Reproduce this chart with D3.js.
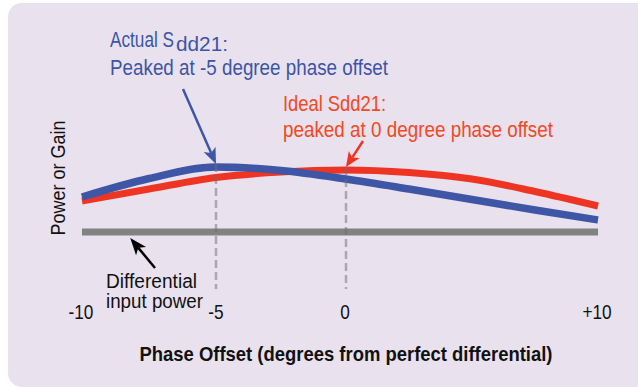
<!DOCTYPE html>
<html>
<head>
<meta charset="utf-8">
<script src="https://cdn.jsdelivr.net/npm/d3@7"></script>
<style>
  html, body { margin: 0; padding: 0; background: #ffffff; }
  svg { display: block; }
  .cond { font-family: "Liberation Sans Narrow", "Arial Narrow", "Liberation Sans", sans-serif; }
</style>
</head>
<body>
<svg id="chart" width="638" height="387"></svg>
<script>
// Phase offset (degrees) sampled along each response curve
const phase = [-10, -7.5, -5, -2.5, 0, 2.5, 5, 7.5, 10];
// Measured differential gain, peaks at -5 degrees
const actualSdd21 = [3.5, 5.35, 6.5, 6.15, 5.3, 4.3, 3.25, 2.2, 1.2];
// Ideal differential gain, peaks at 0 degrees
const idealSdd21 = [3.1, 4.3, 5.45, 6.0, 6.2, 5.95, 5.3, 4.05, 2.6];
// Flat differential input power reference
const inputPhase = [-10, 10];
const inputPower = [0, 0];
// Axis ticks
const tickValues = [-10, -5, 0, 10];
const tickLabels = ["-10", "-5", "0", "+10"];
// Peak markers
const actualPeak = -5;
const idealPeak = 0;

const svg = d3.select("#chart");

// card background
svg.append("rect")
  .attr("x", 8).attr("y", 3)
  .attr("width", 660).attr("height", 384)
  .attr("rx", 14).attr("ry", 14)
  .attr("fill", "#e9e2ee");

const x = d3.scaleLinear().domain([-10, -5, 0, 10]).range([82, 216, 346, 598]);
const y = d3.scaleLinear().domain([0, 10]).range([232, 132]);

const line = d3.line()
  .x(d => x(d[0]))
  .y(d => y(d[1]))
  .curve(d3.curveMonotoneX);

// input power bar
svg.append("path")
  .attr("d", d3.line().x(d => x(d[0])).y(d => y(d[1]))(d3.zip(inputPhase, inputPower)))
  .attr("stroke", "#828282").attr("stroke-width", 7).attr("fill", "none");

// ideal and actual curves
svg.append("path")
  .attr("d", line(d3.zip(phase, idealSdd21)))
  .attr("stroke", "#ee3524").attr("stroke-width", 7).attr("fill", "none");
svg.append("path")
  .attr("d", line(d3.zip(phase, actualSdd21)))
  .attr("stroke", "#3f56a6").attr("stroke-width", 7.5).attr("fill", "none");

const valueAt = (arr, p) => arr[phase.indexOf(p)];

// dashed peak guides
[[actualPeak, valueAt(actualSdd21, actualPeak)], [idealPeak, valueAt(idealSdd21, idealPeak)]]
  .forEach(([p, v]) => {
    svg.append("line")
      .attr("x1", x(p)).attr("x2", x(p))
      .attr("y1", y(v) - 3).attr("y2", 289)
      .attr("stroke", "rgba(110,106,122,0.5)")
      .attr("stroke-width", 2.5)
      .attr("stroke-dasharray", "8,4");
  });

// arrow helper: line with a swept arrowhead at the tip
function arrow(x1, y1, x2, y2, color, len, half) {
  const a = Math.atan2(y2 - y1, x2 - x1);
  const ux = Math.cos(a), uy = Math.sin(a);
  const bx = x2 - ux * len, by = y2 - uy * len;
  const nx = x2 - ux * len * 0.75, ny = y2 - uy * len * 0.75;
  svg.append("line")
    .attr("x1", x1).attr("y1", y1).attr("x2", nx).attr("y2", ny)
    .attr("stroke", color).attr("stroke-width", 2.5);
  svg.append("path")
    .attr("d", `M${x2},${y2}L${bx - uy * half},${by + ux * half}L${nx},${ny}L${bx + uy * half},${by - ux * half}Z`)
    .attr("fill", color);
}

const actualTip = [x(actualPeak), y(valueAt(actualSdd21, actualPeak)) - 3];
const idealTip = [x(idealPeak), y(valueAt(idealSdd21, idealPeak)) - 3];
arrow(183, 89, actualTip[0], actualTip[1], "#3f56a6", 16, 6.5);
arrow(363, 141, idealTip[0], idealTip[1], "#ee3524", 15, 6.5);
arrow(155, 268, x(-8.2), y(0) + 6, "#000000", 17, 6.5);

// narrows a text element to a fraction of its natural width
function condense(sel, k) {
  sel.each(function () {
    const w = this.getComputedTextLength();
    d3.select(this).attr("textLength", w * k).attr("lengthAdjust", "spacingAndGlyphs");
  });
  return sel;
}

// annotation text
const blueText = "#3d55a5", redText = "#ef4a24";
svg.append("text").attr("class", "cond")
  .attr("x", 110).attr("y", 47).attr("font-size", 22).attr("fill", blueText)
  .attr("textLength", 64).attr("lengthAdjust", "spacingAndGlyphs")
  .text("Actual S");
svg.append("text").attr("class", "cond")
  .attr("x", 176).attr("y", 51).attr("font-size", 20).attr("fill", blueText)
  .attr("textLength", 52).attr("lengthAdjust", "spacingAndGlyphs")
  .text("dd21:");

svg.append("text").attr("class", "cond")
  .attr("x", 110).attr("y", 75).attr("font-size", 22).attr("fill", blueText)
  .attr("textLength", 278).attr("lengthAdjust", "spacingAndGlyphs")
  .text("Peaked at -5 degree phase offset");

svg.append("text").attr("class", "cond")
  .attr("x", 283).attr("y", 111).attr("font-size", 22).attr("fill", redText)
  .attr("textLength", 103).attr("lengthAdjust", "spacingAndGlyphs")
  .text("Ideal Sdd21:");

svg.append("text").attr("class", "cond")
  .attr("x", 283).attr("y", 137).attr("font-size", 22).attr("fill", redText)
  .attr("textLength", 270).attr("lengthAdjust", "spacingAndGlyphs")
  .text("peaked at 0 degree phase offset");

svg.append("text").attr("class", "cond")
  .attr("x", 106).attr("y", 288).attr("font-size", 20).attr("fill", "#111")
  .attr("textLength", 91).attr("lengthAdjust", "spacingAndGlyphs")
  .text("Differential");
svg.append("text").attr("class", "cond")
  .attr("x", 106).attr("y", 308).attr("font-size", 20).attr("fill", "#111")
  .attr("textLength", 97).attr("lengthAdjust", "spacingAndGlyphs")
  .text("input power");

// x tick labels
const ticks = svg.append("g").selectAll("text")
  .data(tickValues)
  .join("text")
  .attr("class", "cond")
  .attr("x", d => x(d) - (d === -5 ? 0 : 1))
  .attr("y", 319)
  .attr("text-anchor", "middle")
  .attr("font-size", 21)
  .attr("fill", "#111")
  .text((d, i) => tickLabels[i]);
condense(ticks, 0.82);

// axis titles
svg.append("text").attr("class", "cond")
  .attr("x", 346).attr("y", 361).attr("text-anchor", "middle")
  .attr("font-size", 21).attr("font-weight", "bold").attr("fill", "#111")
  .attr("textLength", 413).attr("lengthAdjust", "spacingAndGlyphs")
  .text("Phase Offset  (degrees from perfect differential)");

svg.append("text")
  .attr("transform", "translate(65,178) rotate(-90)")
  .attr("text-anchor", "middle")
  .attr("font-family", "Liberation Sans, Arial, sans-serif")
  .attr("font-size", 19.5).attr("fill", "#111")
  .attr("textLength", 115).attr("lengthAdjust", "spacingAndGlyphs")
  .text("Power or Gain");
</script>
</body>
</html>
